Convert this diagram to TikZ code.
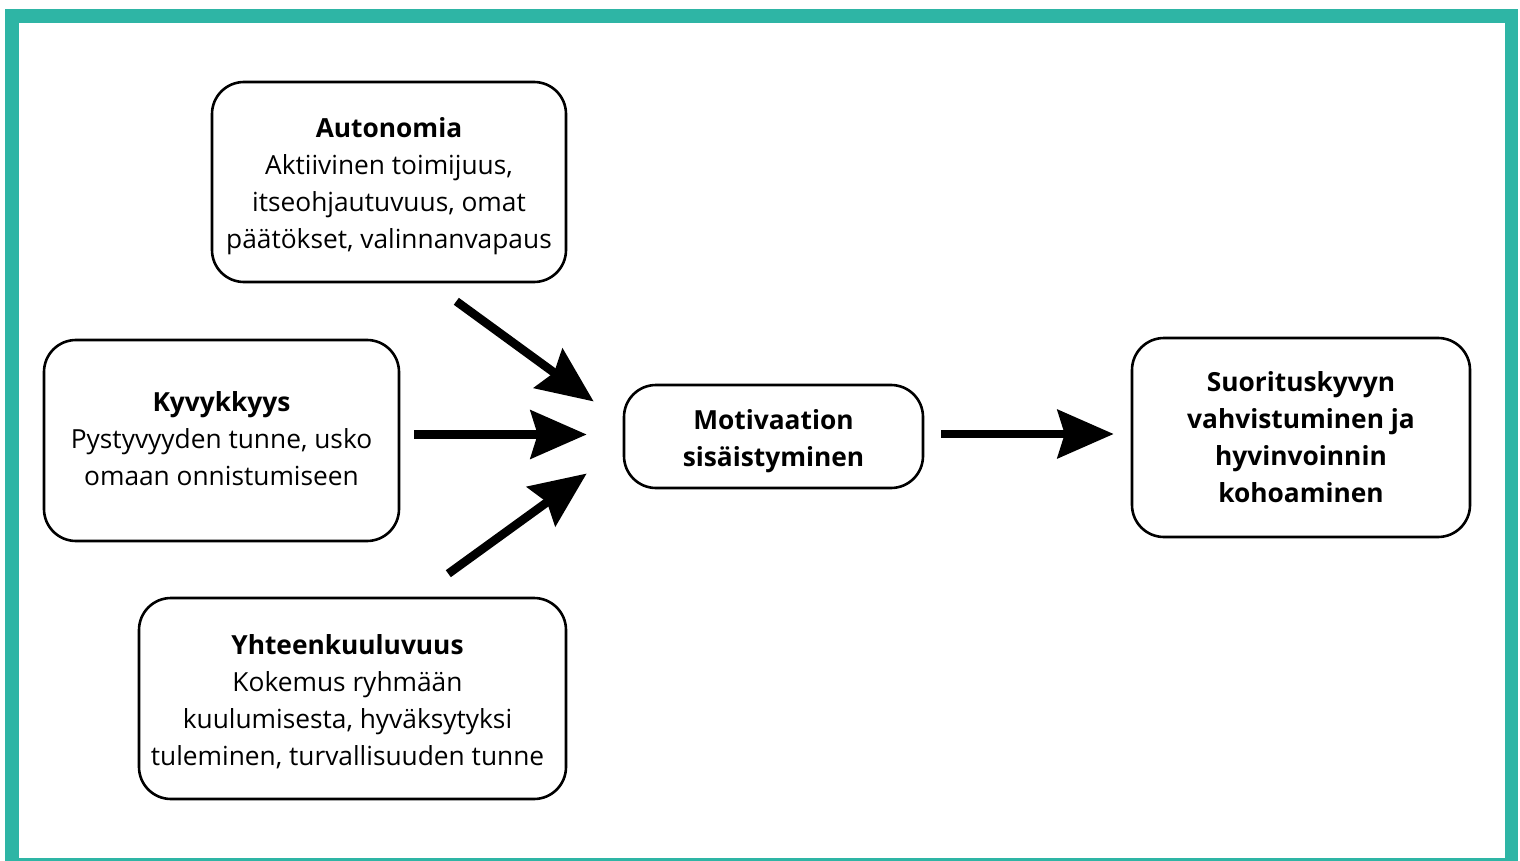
\documentclass[tikz,border=0pt]{standalone}
\usepackage{fontspec}
\setmainfont{Open Sans}
\usetikzlibrary{arrows.meta}
\definecolor{frameteal}{RGB}{46,181,165}
% centred block of lines: #1 vertical raise, #2 padding on the right, #3 lines
\newcommand{\boxlines}[3]{\raisebox{#1}[0pt][0pt]{%
  \begin{tabular}[c]{@{}c@{\hspace{#2}}}#3\end{tabular}}}
\begin{document}
\begin{tikzpicture}[x=0.5pt,y=-0.5pt,
  box/.style={draw=black, line width=1.3pt, rounded corners=16pt,
    inner sep=0pt, font=\fontsize{13.15}{18.5}\selectfont},
  flow/.style={line width=4.3pt, line cap=butt,
    -{Stealth[length=28pt,width=24pt,inset=3.5pt]}}]
  % page and teal frame
  \useasboundingbox (0,0) rectangle (1520,861);
  \fill[white] (0,0) rectangle (1520,861);
  \fill[frameteal] (5,9) rectangle (1518,861);
  \fill[white] (19,23) rectangle (1505,858);

  % needs
  \node[box, minimum width=177pt, minimum height=100pt] (auto) at (389,182)
    {\boxlines{-4.75pt}{0pt}{\textbf{Autonomia}\\Aktiivinen toimijuus,\\itseohjautuvuus, omat\\päätökset, valinnanvapaus}};
  \node[box, minimum width=177.5pt, minimum height=100.5pt] (kyv) at (221.5,440.5)
    {\boxlines{-3.25pt}{0pt}{\textbf{Kyvykkyys}\\Pystyvyyden tunne, usko\\omaan onnistumiseen}};
  \node[box, minimum width=213.5pt, minimum height=100.5pt] (yht) at (352.5,698.5)
    {\boxlines{-5.25pt}{5pt}{\textbf{Yhteenkuuluvuus}\\Kokemus ryhmään\\kuulumisesta, hyväksytyksi\\tuleminen, turvallisuuden tunne}};

  % outcome chain
  \node[box, minimum width=149.5pt, minimum height=51.5pt] (moti) at (773.5,436.5)
    {\boxlines{-5pt}{0pt}{\textbf{Motivaation}\\\textbf{sisäistyminen}}};
  \node[box, minimum width=169pt, minimum height=99.5pt] (suo) at (1301,437.5)
    {\boxlines{-4.25pt}{0pt}{\textbf{Suorituskyvyn}\\\textbf{vahvistuminen ja}\\\textbf{hyvinvoinnin}\\\textbf{kohoaminen}}};

  % arrows
  \draw[flow] ([shift={(-111,18)}]auto.south east) -- ([shift={(-29,-35)}]moti.west);
  \draw[flow] ([shift={(14,-6)}]kyv.east) -- ([shift={(-36,-2)}]moti.west);
  \draw[flow] ([shift={(-119,-23)}]yht.north east) -- ([shift={(-36,37)}]moti.west);
  \draw[flow] ([shift={(17,-2.5)}]moti.east) -- ([shift={(-17,-3.5)}]suo.west);
\end{tikzpicture}
\end{document}
